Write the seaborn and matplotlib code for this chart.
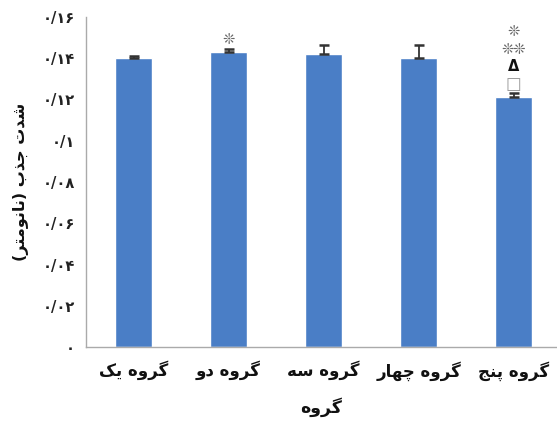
import matplotlib
matplotlib.use("Agg")
import matplotlib.pyplot as plt
import seaborn as sns
import pandas as pd

# ---------------- data ----------------
groups = ["گروه یک", "گروه دو", "گروه سه", "گروه چهار", "گروه پنج"]
values = [0.1401, 0.1431, 0.1420, 0.1401, 0.1210]
errors = [0.0011, 0.0013, 0.0044, 0.0063, 0.0020]
marks = [[], ["❊"], [], [], ["□", "Δ", "❊❊", "❊"]]
y_ticks = [0, 0.02, 0.04, 0.06, 0.08, 0.10, 0.12, 0.14, 0.16]
y_tick_labels = ["۰", "۰/۰۲", "۰/۰۴", "۰/۰۶", "۰/۰۸", "۰/۱", "۰/۱۲", "۰/۱۴", "۰/۱۶"]
x_title = "گروه"
y_title = "شدت جذب (نانومتر)"

# ------------- simple Persian shaping -------------
FORMS = {  # iso, fin, ini, med
    "ا": ("\uFE8D", "\uFE8E", None, None),
    "ب": ("\uFE8F", "\uFE90", "\uFE91", "\uFE92"),
    "پ": ("\uFB56", "\uFB57", "\uFB58", "\uFB59"),
    "ت": ("\uFE95", "\uFE96", "\uFE97", "\uFE98"),
    "ج": ("\uFE9D", "\uFE9E", "\uFE9F", "\uFEA0"),
    "چ": ("\uFB7A", "\uFB7B", "\uFB7C", "\uFB7D"),
    "د": ("\uFEA9", "\uFEAA", None, None),
    "ذ": ("\uFEAB", "\uFEAC", None, None),
    "ر": ("\uFEAD", "\uFEAE", None, None),
    "س": ("\uFEB1", "\uFEB2", "\uFEB3", "\uFEB4"),
    "ش": ("\uFEB5", "\uFEB6", "\uFEB7", "\uFEB8"),
    "ک": ("\uFB8E", "\uFB8F", "\uFB90", "\uFB91"),
    "گ": ("\uFB92", "\uFB93", "\uFB94", "\uFB95"),
    "م": ("\uFEE1", "\uFEE2", "\uFEE3", "\uFEE4"),
    "ن": ("\uFEE5", "\uFEE6", "\uFEE7", "\uFEE8"),
    "ه": ("\uFEE9", "\uFEEA", "\uFEEB", "\uFEEC"),
    "و": ("\uFEED", "\uFEEE", None, None),
    "ی": ("\uFBFC", "\uFBFD", "\uFBFE", "\uFBFF"),
}
MIRROR = {"(": ")", ")": "("}


def shape(text):
    out = []
    n = len(text)
    for i, ch in enumerate(text):
        if ch not in FORMS:
            out.append(MIRROR.get(ch, ch))
            continue
        prev = text[i - 1] if i > 0 else None
        nxt = text[i + 1] if i < n - 1 else None
        join_prev = prev in FORMS and FORMS[prev][2] is not None
        join_next = nxt in FORMS and FORMS[ch][2] is not None
        iso, fin, ini, med = FORMS[ch]
        if join_prev and join_next:
            out.append(med)
        elif join_prev:
            out.append(fin)
        elif join_next:
            out.append(ini)
        else:
            out.append(iso)
    return "".join(reversed(out))


# ---------------- plot ----------------
sns.set_theme(style="white")
plt.rcParams["font.family"] = ["DejaVu Sans"]

df = pd.DataFrame({"group": [shape(g) for g in groups], "value": values})

fig = plt.figure(figsize=(5.57, 4.25), dpi=100)
ax = fig.add_axes([86 / 557, 78 / 425, (557 - 86) / 557, 330 / 425])

bar_color = "#4A7EC6"
sns.barplot(data=df, x="group", y="value", color=bar_color, width=0.39,
            saturation=1, ax=ax, errorbar=None)
ax.errorbar(range(len(values)), values, yerr=[[0] * len(errors), errors],
            fmt="none", ecolor="#333333", elinewidth=1.3, capsize=3.8, capthick=1.8)

for i, ms in enumerate(marks):
    top = values[i] + errors[i]
    for k, m in enumerate(ms):
        if m == "□":
            col, fs = "#999999", 12
        elif m == "Δ":
            col, fs = "#111111", 10.5
        else:
            col, fs = "#666666", 10.5
        ax.annotate(m, (i, top), xytext=(0, 7 + k * 12.4), textcoords="offset points",
                    ha="center", va="center", fontsize=fs, color=col, fontweight="bold")

ax.set_ylim(0, 0.16)
ax.set_xlim(-0.5, (557 - 86) / 95 - 0.5)
ax.set_yticks(y_ticks)
ax.set_yticklabels(y_tick_labels, fontsize=10.5, fontweight="bold", color="#222222")
ax.tick_params(axis="y", length=0, pad=8)
ax.tick_params(axis="x", length=0, pad=10, labelsize=12)
for lab in ax.get_xticklabels():
    lab.set_fontweight("bold")
    lab.set_color("#111111")

ax.set_xlabel(shape(x_title), fontsize=12.5, fontweight="bold", color="#111111", labelpad=12)
ax.set_ylabel(shape(y_title), fontsize=11.5, fontweight="bold", color="#111111", labelpad=10)

for s in ["top", "right"]:
    ax.spines[s].set_visible(False)
for s in ["left", "bottom"]:
    ax.spines[s].set_color("#AAAAAA")
    ax.spines[s].set_linewidth(1.0)

fig.savefig("out.png", dpi=100)
